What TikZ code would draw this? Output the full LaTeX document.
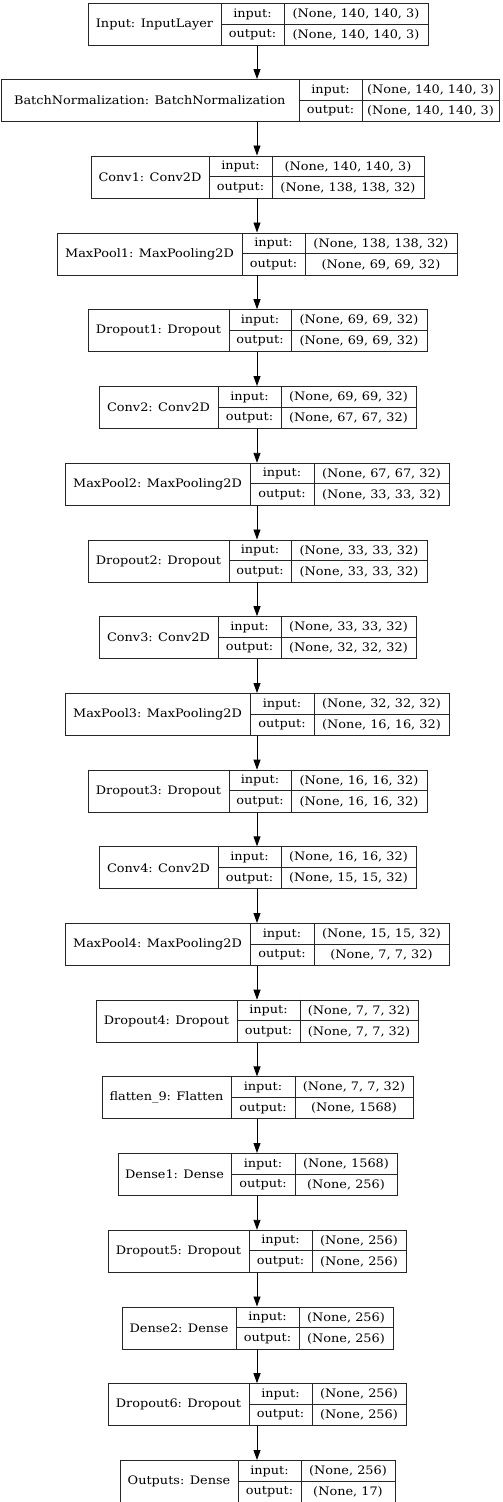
\documentclass[tikz,border=0pt]{standalone}
\usepackage{fontspec}
\setmainfont[FakeStretch=1.1]{DejaVu Serif}
\usetikzlibrary{arrows.meta}
\tikzset{
  box/.style={draw=black!85, line width=0.9pt, minimum height=42pt, inner sep=0pt, anchor=north west},
  cell/.style={draw=black!85, line width=0.9pt},
  txt/.style={inner sep=0pt, anchor=center, font=\fontsize{11.7}{13}\selectfont},
  arr/.style={draw=black, line width=0.9pt, -{Triangle[width=7pt,length=10pt]}}
}
\newcommand{\layer}[9]{%
  \pgfmathsetmacro{\lw}{#6-#3}%
  \node[box, minimum width=\lw pt] (#1) at (#3,#2) {};
  \draw[cell] (#4,#2) -- ++(0,42);
  \draw[cell] (#5,#2) -- ++(0,42);
  \draw[cell] (#4,#2+21) -- (#6,#2+21);
  \node[txt] (#1n) at ({(#3+#4)/2},{#2+21.5}) {#7};
  \node[txt] (#1i) at ({(#4+#5)/2},{#2+11}) {input:};
  \node[txt] (#1o) at ({(#4+#5)/2},{#2+32}) {output:};
  \node[txt] (#1a) at ({(#5+#6)/2},{#2+11}) {#8};
  \node[txt] (#1b) at ({(#5+#6)/2},{#2+32}) {#9};
}
\begin{document}
\begin{tikzpicture}[x=1pt,y=-1pt]
\useasboundingbox (0,0) rectangle (503,1502);
\fill[white] (0,0) rectangle (503,1502);
\coordinate (ax) at (257,0);
\layer{L1}{3}{88}{221}{284}{428}{Input: InputLayer}{(None, 140, 140, 3)}{(None, 140, 140, 3)}
\layer{L2}{79}{0.6}{299}{362}{499}{BatchNormalization: BatchNormalization}{(None, 140, 140, 3)}{(None, 140, 140, 3)}
\layer{L3}{155.5}{91}{209}{272}{424}{Conv1: Conv2D}{(None, 140, 140, 3)}{(None, 138, 138, 32)}
\layer{L4}{232.5}{57}{242}{305}{457}{MaxPool1: MaxPooling2D}{(None, 138, 138, 32)}{(None, 69, 69, 32)}
\layer{L5}{309.2}{88}{229}{291}{427}{Dropout1: Dropout}{(None, 69, 69, 32)}{(None, 69, 69, 32)}
\layer{L6}{386}{99}{218}{281}{416}{Conv2: Conv2D}{(None, 69, 69, 32)}{(None, 67, 67, 32)}
\layer{L7}{462.8}{65}{250}{314}{449}{MaxPool2: MaxPooling2D}{(None, 67, 67, 32)}{(None, 33, 33, 32)}
\layer{L8}{539.5}{88}{229}{291}{427}{Dropout2: Dropout}{(None, 33, 33, 32)}{(None, 33, 33, 32)}
\layer{L9}{616.2}{99}{218}{281}{416}{Conv3: Conv2D}{(None, 33, 33, 32)}{(None, 32, 32, 32)}
\layer{L10}{693}{65}{250}{314}{449}{MaxPool3: MaxPooling2D}{(None, 32, 32, 32)}{(None, 16, 16, 32)}
\layer{L11}{769.7}{88}{229}{291}{427}{Dropout3: Dropout}{(None, 16, 16, 32)}{(None, 16, 16, 32)}
\layer{L12}{846.3}{99}{218}{281}{416}{Conv4: Conv2D}{(None, 16, 16, 32)}{(None, 15, 15, 32)}
\layer{L13}{923}{65}{250}{314}{449}{MaxPool4: MaxPooling2D}{(None, 15, 15, 32)}{(None, 7, 7, 32)}
\layer{L14}{999.7}{96}{237}{300}{418}{Dropout4: Dropout}{(None, 7, 7, 32)}{(None, 7, 7, 32)}
\layer{L15}{1076.4}{102}{231}{295}{413}{flatten\_9: Flatten}{(None, 7, 7, 32)}{(None, 1568)}
\layer{L16}{1153}{118}{231}{295}{397}{Dense1: Dense}{(None, 1568)}{(None, 256)}
\layer{L17}{1229.8}{108}{249}{312}{406}{Dropout5: Dropout}{(None, 256)}{(None, 256)}
\layer{L18}{1306.5}{122}{236}{299}{393}{Dense2: Dense}{(None, 256)}{(None, 256)}
\layer{L19}{1383.2}{108}{249}{312}{406}{Dropout6: Dropout}{(None, 256)}{(None, 256)}
\layer{L20}{1460}{120}{238}{301}{395}{Outputs: Dense}{(None, 256)}{(None, 17)}
\foreach \a/\b in {L1/L2,L2/L3,L3/L4,L4/L5,L5/L6,L6/L7,L7/L8,L8/L9,L9/L10,L10/L11,L11/L12,L12/L13,L13/L14,L14/L15,L15/L16,L16/L17,L17/L18,L18/L19,L19/L20}
  \draw[arr] (\a.south -| ax) -- (\b.north -| ax);
\end{tikzpicture}
\end{document}
